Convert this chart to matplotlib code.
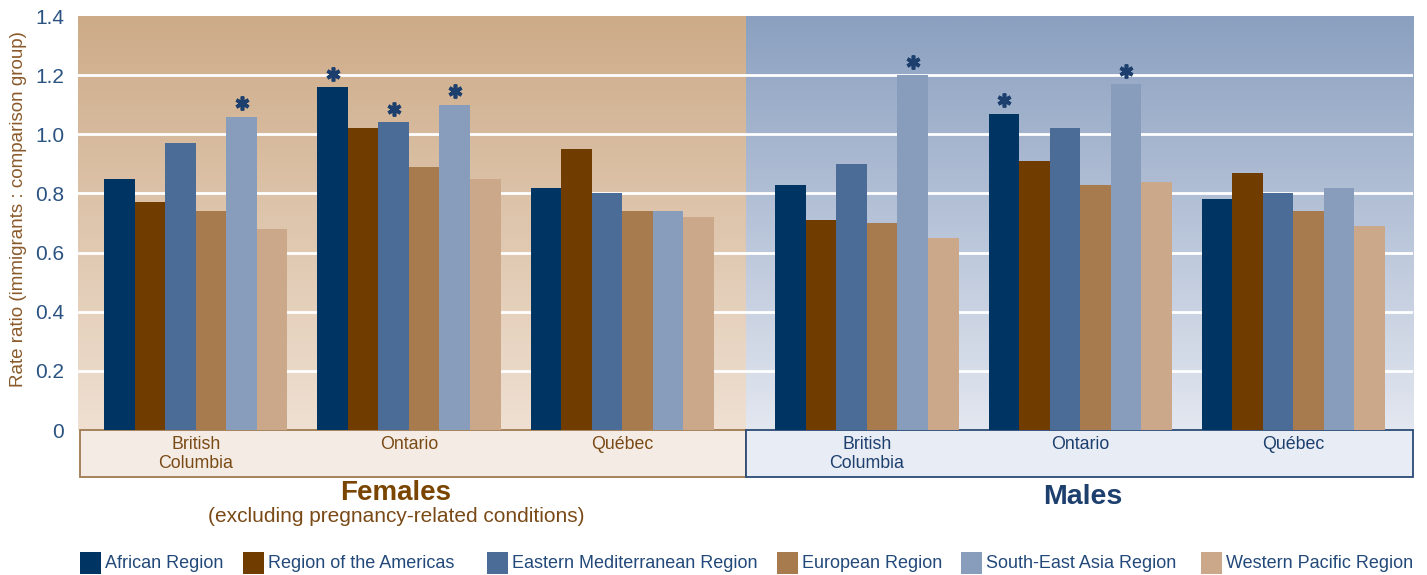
import numpy as np
import matplotlib
matplotlib.use("Agg")
import matplotlib.pyplot as plt
from matplotlib.patches import Rectangle
from matplotlib.colors import LinearSegmentedColormap

plt.rcParams['font.family'] = ['Liberation Sans', 'DejaVu Sans']

# ---- data ----
provinces = ["British\nColumbia", "Ontario", "Québec"]
regions = ["African Region", "Region of the Americas", "Eastern Mediterranean Region",
           "European Region", "South-East Asia Region", "Western Pacific Region"]
colors = ["#003462", "#713c00", "#4a6c96", "#a87b4f", "#889cbb", "#cba88a"]

females = [
    [0.85, 0.77, 0.97, 0.74, 1.06, 0.68],   # British Columbia
    [1.16, 1.02, 1.04, 0.89, 1.10, 0.85],   # Ontario
    [0.82, 0.95, 0.80, 0.74, 0.74, 0.72],   # Québec
]
males = [
    [0.83, 0.71, 0.90, 0.70, 1.20, 0.65],
    [1.07, 0.91, 1.02, 0.83, 1.17, 0.84],
    [0.78, 0.87, 0.80, 0.74, 0.82, 0.69],
]
# significance stars (province index, region index)
female_stars = [(0, 4), (1, 0), (1, 2), (1, 4)]
male_stars = [(0, 4), (1, 0), (1, 4)]

yticks = [0, 0.2, 0.4, 0.6, 0.8, 1.0, 1.2, 1.4]
ytick_labels = ["0", "0.2", "0.4", "0.6", "0.8", "1.0", "1.2", "1.4"]

# ---- layout ----
fig = plt.figure(figsize=(14.27, 5.75), dpi=100)
ax = fig.add_axes([78/1427, 1-430/575, (1413-78)/1427, (430-16)/575])

f_centers = np.array([0.0, 1.0, 2.0])
m_centers = f_centers + 3.148
xmin, xmax, split = -0.552, 5.709, 2.58
bw = 0.1432

# gradient backgrounds
grad = np.linspace(0, 1, 256).reshape(-1, 1)
cm_f = LinearSegmentedColormap.from_list("f", ["#efe0d2", "#cdab88"])
cm_m = LinearSegmentedColormap.from_list("m", ["#e3e7f0", "#8ba0c0"])
ax.imshow(grad, cmap=cm_f, extent=[xmin, split, 0, 1.4], aspect='auto', origin='lower', zorder=0)
ax.imshow(grad, cmap=cm_m, extent=[split, xmax, 0, 1.4], aspect='auto', origin='lower', zorder=0)
ax.set_xlim(xmin, xmax)
ax.set_ylim(0, 1.4)

for y in [0.2, 0.4, 0.6, 0.8, 1.0, 1.2]:
    ax.axhline(y, color="white", lw=2, zorder=1)

offsets = (np.arange(6) - 2.5) * bw
for data, centers, stars in [(females, f_centers, female_stars), (males, m_centers, male_stars)]:
    for r in range(6):
        vals = [data[p][r] for p in range(3)]
        ax.bar(centers + offsets[r], vals, width=bw, color=colors[r], zorder=2, linewidth=0)
    sx = [centers[p] + offsets[r] for p, r in stars]
    sy = [data[p][r] + 0.045 for p, r in stars]
    ax.plot(sx, sy, linestyle='none', marker=(6, 2, 0), ms=10, mew=2.6, color="#1d3f6e", zorder=3)

for s in ax.spines.values():
    s.set_visible(False)
ax.set_xticks([])
ax.set_yticks(yticks)
ax.set_yticklabels(ytick_labels, fontsize=15, color="#2b5382")
ax.tick_params(axis='y', length=0, pad=10)
ax.set_ylabel("Rate ratio (immigrants : comparison group)", fontsize=13.5, color="#8b5a2b")
ax.yaxis.set_label_coords(-0.038, 0.534)

# category label boxes below axis
trans = ax.get_xaxis_transform()
bh = 47/414
ax.add_patch(Rectangle((xmin + 0.01, -bh), split - xmin - 0.01, bh, transform=trans, clip_on=False,
                       facecolor="#f4ece4", edgecolor="#a07a52", lw=1.3, zorder=1))
ax.add_patch(Rectangle((split, -bh), xmax - split, bh, transform=trans, clip_on=False,
                       facecolor="#e8ecf4", edgecolor="#2a4a75", lw=1.3, zorder=1))
for i, name in enumerate(provinces):
    ax.text(f_centers[i], -0.014, name, transform=trans, ha='center', va='top', fontsize=12.8,
            color="#7a4a16", linespacing=1.15)
    ax.text(m_centers[i], -0.014, name, transform=trans, ha='center', va='top', fontsize=12.8,
            color="#1d3f6e", linespacing=1.15)

fig.text(396/1427, 1-493/575, "Females", ha='center', va='center', fontsize=20, fontweight='bold',
         color="#7a4500")
fig.text(396/1427, 1-517/575, "(excluding pregnancy-related conditions)", ha='center', va='center',
         fontsize=15, color="#7a4a16")
fig.text(1083/1427, 1-497/575, "Males", ha='center', va='center', fontsize=20.5, fontweight='bold',
         color="#1d3f6e")

# legend
leg_x = [80, 243, 487, 777, 961, 1201]
for x, c, lab in zip(leg_x, colors, regions):
    fig.patches.append(Rectangle((x/1427, 1-574/575), 21/1427, 22/575, transform=fig.transFigure,
                                 facecolor=c, edgecolor='none'))
    fig.text((x+25)/1427, 1-563/575, lab, ha='left', va='center', fontsize=13, color="#22497a")

fig.savefig("out.png", dpi=100)
